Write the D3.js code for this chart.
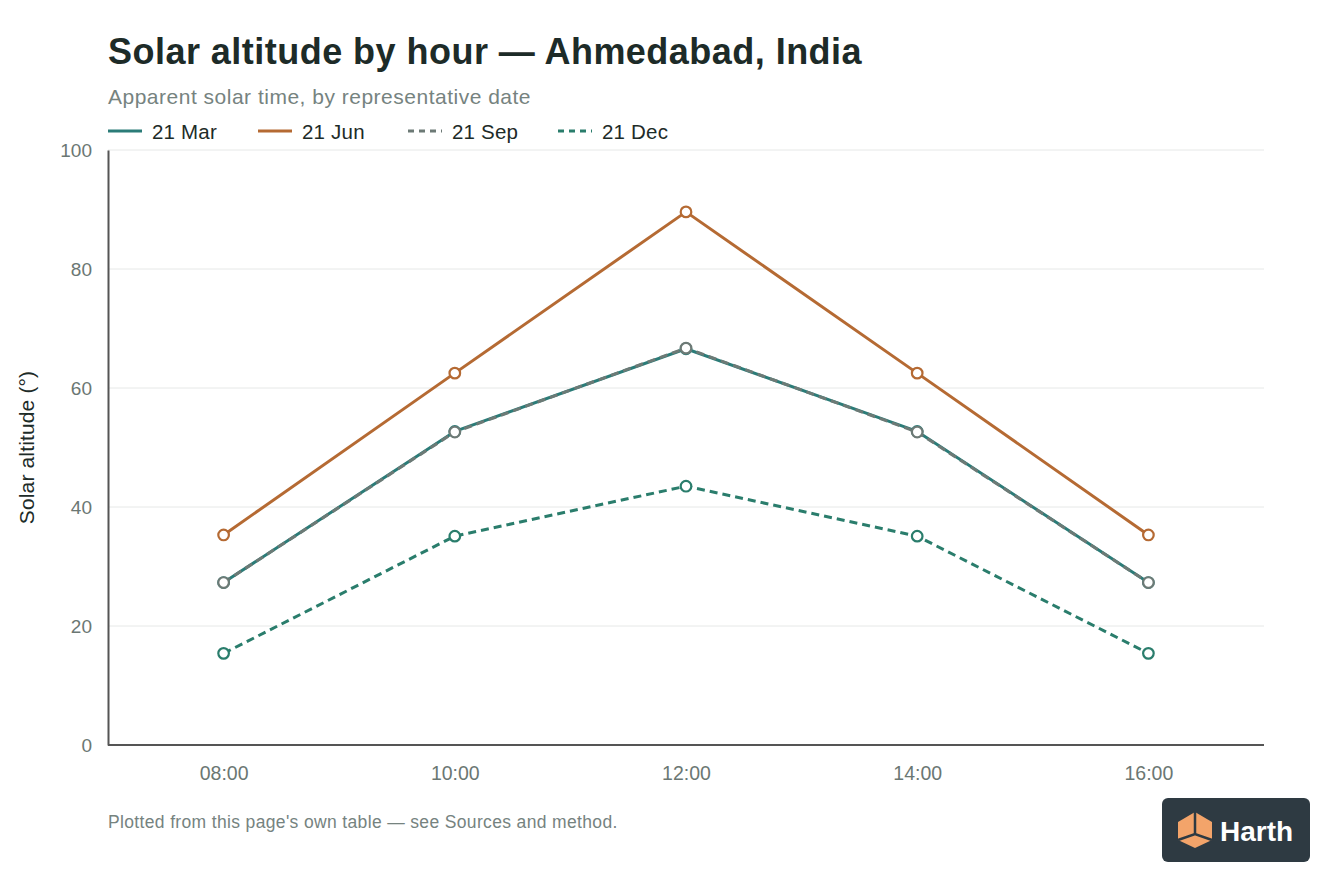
<!DOCTYPE html>
<html><head><meta charset="utf-8">
<script src="https://cdn.jsdelivr.net/npm/d3@7"></script>
<style>
html,body{margin:0;padding:0;background:#fff;}
svg{display:block;font-family:"Liberation Sans",Arial,Helvetica,sans-serif;}
</style></head>
<body><svg id="chart" width="1344" height="896"></svg>
<script>
const hours = ["08:00","10:00","12:00","14:00","16:00"];
const seriesNames = ["21 Mar","21 Jun","21 Sep","21 Dec"];
const mar = [27.3, 52.7, 66.6, 52.7, 27.3];
const jun = [35.3, 62.5, 89.6, 62.5, 35.3];
const sep = [27.3, 52.6, 66.7, 52.6, 27.3];
const dec = [15.4, 35.1, 43.5, 35.1, 15.4];
const yTicks = [0, 20, 40, 60, 80, 100];

const colors = ["#2b7c78", "#b56a33", "#6d7a76", "#2a7d6c"];
const dashes = [null, null, "8,5", "8,5"];
const series = [mar, jun, sep, dec].map((v,i)=>({name:seriesNames[i], values:v, color:colors[i], dash:dashes[i]}));

const svg = d3.select("#chart");
const m = {left:108, right:1264, top:150, bottom:745};

const x = d3.scalePoint().domain(hours).range([m.left, m.right]).padding(0.5);
const y = d3.scaleLinear().domain([0,100]).range([m.bottom, m.top]);

// title
svg.append("text").attr("x",108).attr("y",64).attr("font-size",36).attr("font-weight","bold")
  .attr("letter-spacing",0.47).attr("fill","#1d2b28").text("Solar altitude by hour — Ahmedabad, India");
svg.append("text").attr("x",108).attr("y",104).attr("font-size",21).attr("letter-spacing",0.5)
  .attr("fill","#76837f").text("Apparent solar time, by representative date");

// legend
const legX = [108, 258, 408, 558];
series.forEach((s,i)=>{
  const g = svg.append("g").attr("transform",`translate(${legX[i]},131)`);
  g.append("line").attr("x1",0).attr("x2",34).attr("y1",0).attr("y2",0)
    .attr("stroke",s.color).attr("stroke-width",3).attr("stroke-dasharray",s.dash ? "6,5" : null);
  g.append("text").attr("x",44).attr("y",7.5).attr("font-size",20.5).attr("letter-spacing",0.2).attr("fill","#1d2b28").text(s.name);
});

// gridlines
svg.append("g").selectAll("line").data(yTicks.filter(d=>d>0)).join("line")
  .attr("x1",m.left).attr("x2",m.right).attr("y1",d=>y(d)).attr("y2",d=>y(d))
  .attr("stroke","#e6e8e7").attr("stroke-width",1);

// y axis
const yAxis = svg.append("g").attr("transform",`translate(${m.left},0)`)
  .call(d3.axisLeft(y).tickValues(yTicks).tickSize(0).tickPadding(16));
yAxis.select(".domain").attr("stroke","#555").attr("stroke-width",2);
yAxis.selectAll("text").attr("font-size",19).attr("fill","#6b7773").attr("font-family","Liberation Sans, Arial, sans-serif");

// x axis
const xAxis = svg.append("g").attr("transform",`translate(0,${m.bottom})`)
  .call(d3.axisBottom(x).tickSize(0).tickPadding(21));
xAxis.select(".domain").attr("stroke","#555").attr("stroke-width",2).attr("d",`M${m.left},0H${m.right}`);
xAxis.selectAll("text").attr("font-size",19.5).attr("fill","#6b7773").attr("font-family","Liberation Sans, Arial, sans-serif");

// y label
svg.append("text").attr("transform",`translate(34,${(m.top+m.bottom)/2}) rotate(-90)`)
  .attr("text-anchor","middle").attr("font-size",21).attr("letter-spacing",0.15).attr("fill","#1d2b28").text("Solar altitude (°)");

// lines
const line = d3.line().x((d,i)=>x(hours[i])).y(d=>y(d));
series.forEach(s=>{
  svg.append("path").datum(s.values).attr("d",line).attr("fill","none")
    .attr("stroke",s.color).attr("stroke-width",3).attr("stroke-dasharray",s.dash)
    .attr("stroke-linejoin","round");
});
series.forEach(s=>{
  svg.append("g").selectAll("circle").data(s.values).join("circle")
    .attr("cx",(d,i)=>x(hours[i])).attr("cy",d=>y(d)).attr("r",5.3)
    .attr("fill","#fff").attr("stroke",s.color).attr("stroke-width",2.2);
});

// footer
svg.append("text").attr("x",108).attr("y",828).attr("font-size",17.5).attr("letter-spacing",0.35).attr("fill","#76837f")
  .text("Plotted from this page's own table — see Sources and method.");

// logo
const lg = svg.append("g").attr("transform","translate(1162,798)");
lg.append("rect").attr("width",148).attr("height",64).attr("rx",6).attr("fill","#2e3a42");
const ic = lg.append("g").attr("transform","translate(16,14)");
ic.append("path").attr("d","M0,10 L17,0 L34,10 L34,28 L17,36 L0,28 Z").attr("fill","#f3a46a");
ic.append("path").attr("d","M17,0 L17,22 M0,28 L17,22 L34,28").attr("stroke","#2e3a42").attr("stroke-width",2.5).attr("fill","none");
lg.append("text").attr("x",58).attr("y",43).attr("font-size",28).attr("font-weight","bold")
  .attr("fill","#fff").text("Harth");
</script></body></html>
